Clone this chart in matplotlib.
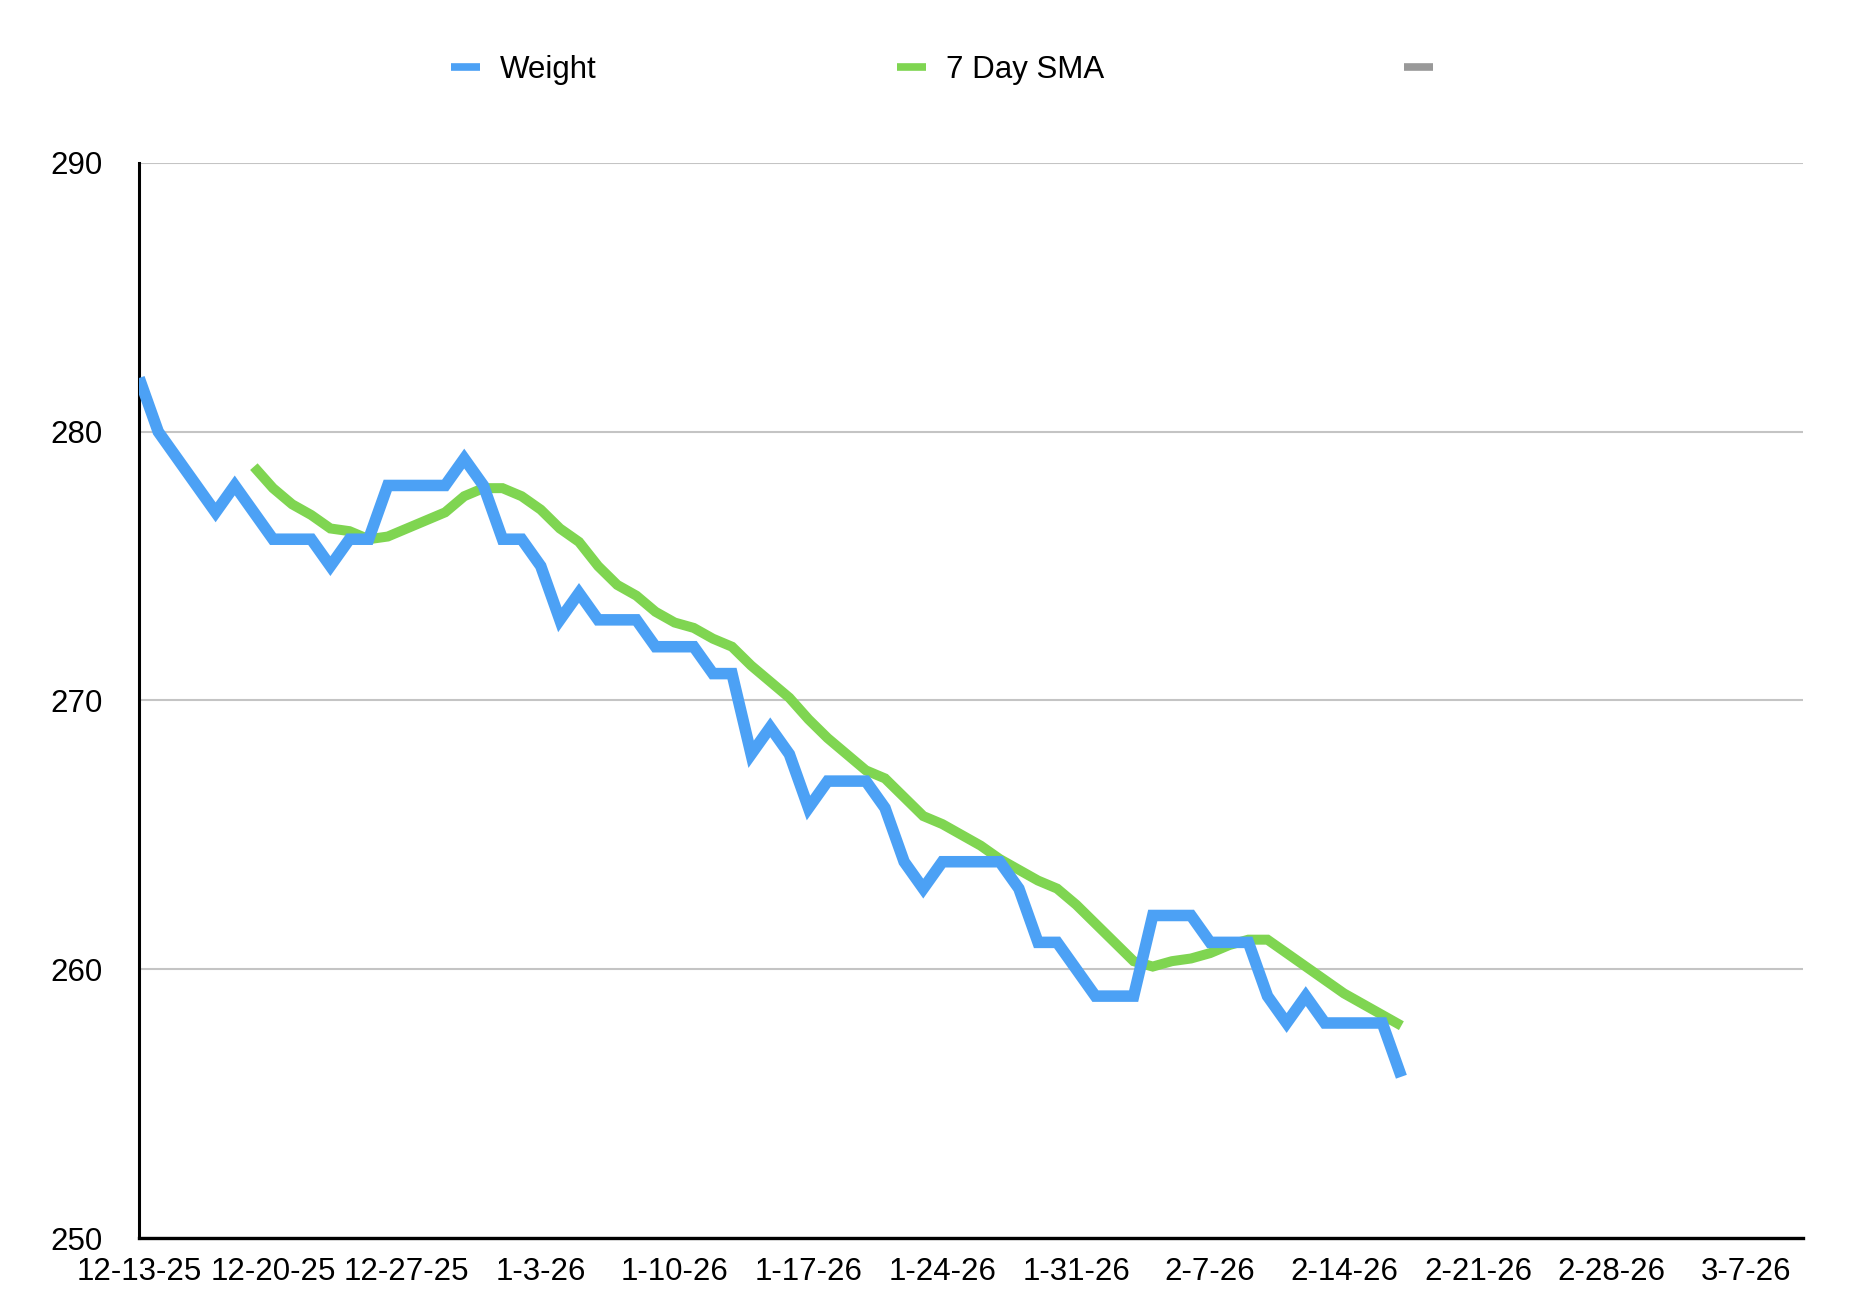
import matplotlib
matplotlib.use("Agg")
import matplotlib.pyplot as plt
import matplotlib.dates as mdates
from matplotlib.ticker import FuncFormatter
from matplotlib.lines import Line2D
import pandas as pd

plt.rcParams['font.family'] = ['Liberation Sans', 'DejaVu Sans']

# daily weigh-ins
start_date = "2025-12-13"
weight = [282, 280, 279, 278, 277, 278, 277, 276, 276, 276, 275, 276, 276, 278,
          278, 278, 278, 279, 278, 276, 276, 275, 273, 274, 273, 273, 273, 272,
          272, 272, 271, 271, 268, 269, 268, 266, 267, 267, 267, 266, 264, 263,
          264, 264, 264, 264, 263, 261, 261, 260, 259, 259, 259, 262, 262, 262,
          261, 261, 261, 259, 258, 259, 258, 258, 258, 258, 256]

# 7 day SMA starts on the 7th day
sma_offset = 6
sma = [278.7, 277.9, 277.3, 276.9, 276.4, 276.3, 276.0, 276.1, 276.4, 276.7,
       277.0, 277.6, 277.9, 277.9, 277.6, 277.1, 276.4, 275.9, 275.0, 274.3,
       273.9, 273.3, 272.9, 272.7, 272.3, 272.0, 271.3, 270.7, 270.1, 269.3,
       268.6, 268.0, 267.4, 267.1, 266.4, 265.7, 265.4, 265.0, 264.6, 264.1,
       263.7, 263.3, 263.0, 262.4, 261.7, 261.0, 260.3, 260.1, 260.3, 260.4,
       260.6, 260.9, 261.1, 261.1, 260.6, 260.1, 259.6, 259.1, 258.7, 258.3,
       257.9]

y_ticks = [250, 260, 270, 280, 290]
axis_end = "2026-03-10"

dates = pd.date_range(start_date, periods=len(weight), freq="D")
sma_dates = dates[sma_offset:sma_offset + len(sma)]

blue = "#4ca1f5"
green = "#7fd551"
gray = "#999999"

fig = plt.figure(figsize=(18.5, 13.12), dpi=100)
ax = fig.add_axes([0.0752, 0.0564, 0.8994, 0.8194])

ax.plot(sma_dates, sma, color=green, lw=7.2, solid_capstyle="butt",
        solid_joinstyle="miter", zorder=3)
ax.plot(dates, weight, color=blue, lw=8.3, solid_capstyle="butt",
        solid_joinstyle="miter", zorder=4)

ax.set_ylim(250, 290)
ax.set_yticks(y_ticks)
ax.set_xlim(pd.Timestamp(start_date), pd.Timestamp(axis_end))
ax.set_xticks(pd.date_range(start_date, axis_end, freq="7D"))
ax.xaxis.set_major_formatter(FuncFormatter(
    lambda v, p: (lambda d: f"{d.month}-{d.day}-{d.year % 100:02d}")(mdates.num2date(v))))

ax.grid(axis="y", color="#c4c4c4", lw=1.5, zorder=1)
ax.set_axisbelow(True)
for s in ["top", "right"]:
    ax.spines[s].set_visible(False)
ax.spines["left"].set_linewidth(2.2)
ax.spines["bottom"].set_linewidth(2.4)
ax.tick_params(axis="y", length=0, pad=26, labelsize=22.5)
ax.tick_params(axis="x", length=0, pad=14, labelsize=22.5)

handles = [Line2D([], [], color=c, lw=5.5, solid_capstyle="butt") for c in (blue, green, gray)]
fig.legend(handles, ["Weight", "7 Day SMA", ""], loc="center left",
           bbox_to_anchor=(0.244, 0.947), ncol=3, frameon=False, fontsize=22.5,
           handlelength=0.92, handletextpad=0.64, columnspacing=9.6,
           borderpad=0, borderaxespad=0)

fig.savefig("out.png", dpi=100)
